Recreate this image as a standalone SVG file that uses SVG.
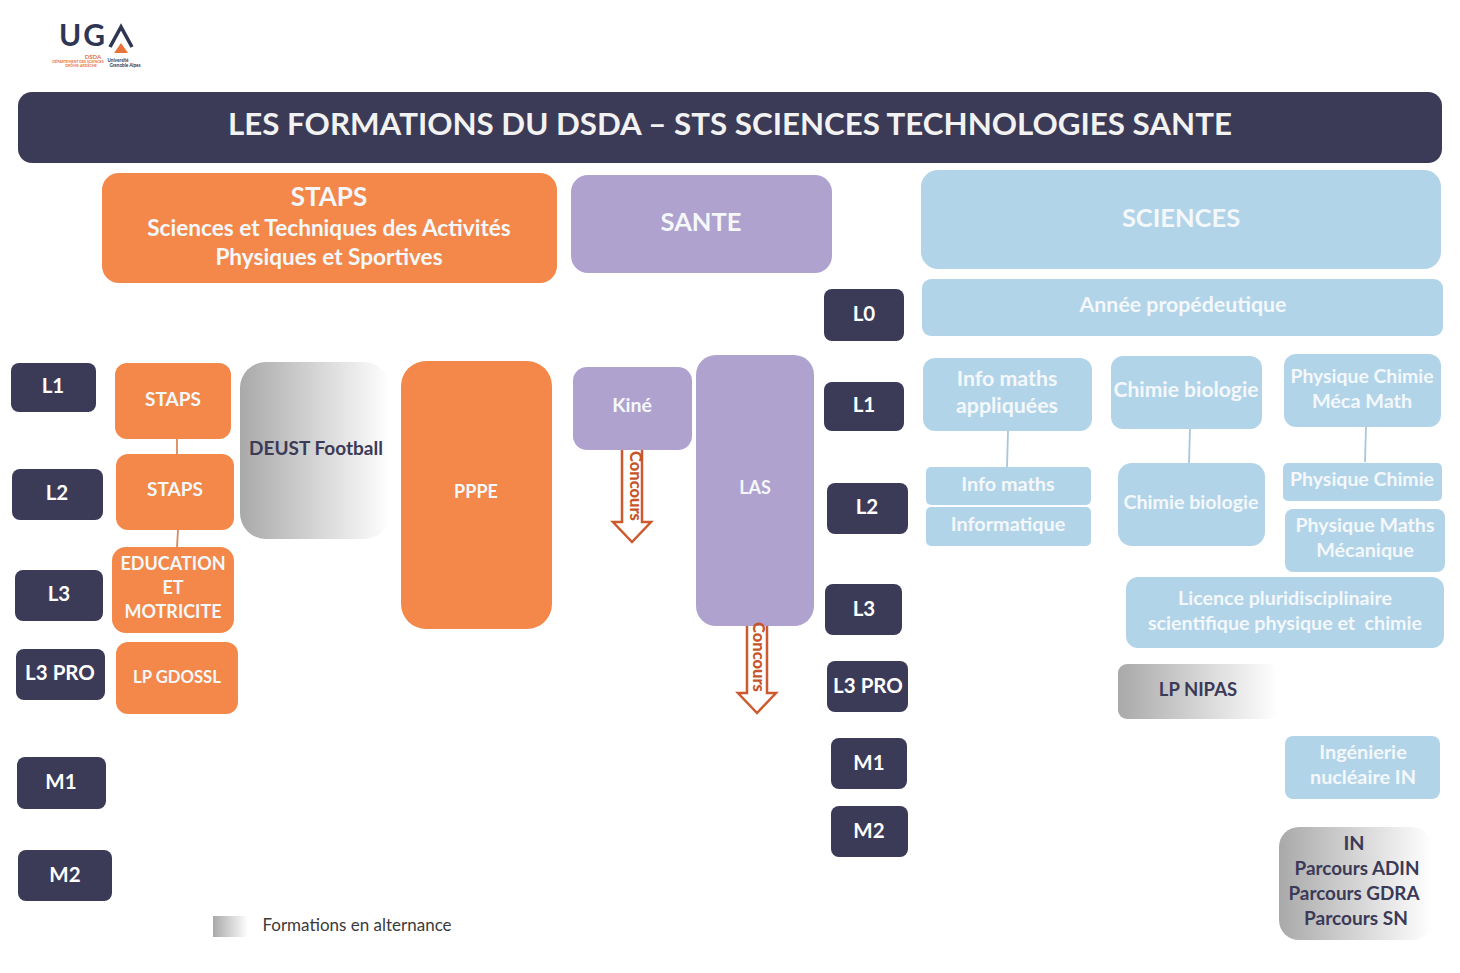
<svg xmlns="http://www.w3.org/2000/svg" width="1460" height="973" viewBox="0 0 1460 973">
<style>
text{font-family:Lato,"Open Sans","Liberation Sans",sans-serif;font-weight:700;text-anchor:middle}
.w{fill:#fff}.wb{fill:#f4f8fb}.d{fill:#3b3a57}
.navy{fill:#3b3a57}.or{fill:#f3884a}.pu{fill:#afa2cf}.bl{fill:#b2d4e9}
.s20{font-size:20.5px}.s19{font-size:21.3px}.s18{font-size:19.8px}
.conn{stroke-width:1.8;fill:none}
.arrow{fill:#fff;stroke:#cc5a2e;stroke-width:2.5;stroke-linejoin:miter}
.conc{fill:#c8552a;font-size:16.5px;font-weight:900}
</style>
<defs>
<linearGradient id="alt" x1="0" y1="0" x2="1" y2="0"><stop offset="0" stop-color="#a9a9a9"/><stop offset="1" stop-color="#ffffff"/></linearGradient>
</defs>
<rect width="1460" height="973" fill="#fff"/>
<g id="logo">
<text x="83" y="46" font-size="30" style="fill:#2f3654;letter-spacing:2px">UG</text>
<path d="M110 47 L121 27 L132 47" fill="none" stroke="#2f3654" stroke-width="3.6"/>
<path d="M114 53 L121 43 L128 53Z" fill="#e8743b"/>
<text x="93" y="59" font-size="6" style="fill:#e8743b">DSDA</text>
<text x="78" y="62.5" font-size="3.6" style="fill:#e8743b">DÉPARTEMENT DES SCIENCES</text>
<text x="81" y="67" font-size="3.6" style="fill:#e8743b">DRÔME-ARDÈCHE</text>
<text x="118" y="62" font-size="4.6" style="fill:#2f3654">Université</text>
<text x="125" y="67" font-size="4.6" style="fill:#2f3654">Grenoble Alpes</text>
</g>
<g id="title"><rect x="18" y="92" width="1424" height="71" rx="14" class="navy"/>
<text x="730" y="135" font-size="31.3" class="w" style="fill:#f2f2f2">LES FORMATIONS DU DSDA – STS SCIENCES TECHNOLOGIES SANTE</text></g>
<g id="connectors">
<path class="conn" stroke="#d98a5c" d="M177 439V454M178 530L177 547"/>
<path class="conn" stroke="#a9c6da" d="M1008 431L1007 467M1190 429L1189 463M1366 427L1365 462"/>
</g>
<g id="head-staps"><rect x="102" y="173" width="455" height="110" rx="17" class="or"/>
<text x="329" y="206" font-size="26" class="wb">STAPS</text>
<text x="329" y="236" font-size="22.6" class="wb">Sciences et Techniques des Activités</text>
<text x="329" y="265" font-size="22.6" class="wb">Physiques et Sportives</text></g>
<g id="head-sante"><rect x="571" y="175" width="261" height="98" rx="17" class="pu"/>
<text x="701" y="231" font-size="25.5" class="wb">SANTE</text></g>
<g id="head-sciences"><rect x="921" y="170" width="520" height="99" rx="17" class="bl"/>
<text x="1181" y="227" font-size="25.5" class="wb">SCIENCES</text></g>
<g id="annee"><rect x="922" y="279" width="521" height="57" rx="9" class="bl"/>
<text x="1183" y="312" class="wb s19">Année propédeutique</text></g>
<g id="left-l1"><rect x="11" y="363" width="85" height="49" rx="8" class="navy"/><text x="53" y="393" class="w s20">L1</text></g>
<g id="left-l2"><rect x="12" y="469" width="91" height="51" rx="8" class="navy"/><text x="57" y="500" class="w s20">L2</text></g>
<g id="left-l3"><rect x="15" y="570" width="88" height="51" rx="8" class="navy"/><text x="59" y="601" class="w s20">L3</text></g>
<g id="left-l3pro"><rect x="16" y="649" width="89" height="51" rx="8" class="navy"/><text x="60" y="680" class="w s20">L3 PRO</text></g>
<g id="left-m1"><rect x="17" y="757" width="89" height="52" rx="8" class="navy"/><text x="61" y="789" class="w s20">M1</text></g>
<g id="left-m2"><rect x="18" y="850" width="94" height="51" rx="8" class="navy"/><text x="65" y="882" class="w s20">M2</text></g>
<g id="mid-l0"><rect x="824" y="289" width="80" height="52" rx="8" class="navy"/><text x="864" y="321" class="w s20">L0</text></g>
<g id="mid-l1"><rect x="824" y="382" width="80" height="49" rx="8" class="navy"/><text x="864" y="412" class="w s20">L1</text></g>
<g id="mid-l2"><rect x="827" y="483" width="81" height="51" rx="8" class="navy"/><text x="867" y="514" class="w s20">L2</text></g>
<g id="mid-l3"><rect x="825" y="584" width="77" height="51" rx="8" class="navy"/><text x="864" y="616" class="w s20">L3</text></g>
<g id="mid-l3pro"><rect x="827" y="661" width="81" height="51" rx="8" class="navy"/><text x="868" y="693" class="w s20">L3 PRO</text></g>
<g id="mid-m1"><rect x="831" y="738" width="76" height="51" rx="8" class="navy"/><text x="869" y="770" class="w s20">M1</text></g>
<g id="mid-m2"><rect x="831" y="806" width="77" height="51" rx="8" class="navy"/><text x="869" y="838" class="w s20">M2</text></g>
<g id="staps1"><rect x="115" y="363" width="116" height="76" rx="12" class="or"/><text x="173" y="406" font-size="19" class="wb">STAPS</text></g>
<g id="staps2"><rect x="116" y="454" width="118" height="76" rx="12" class="or"/><text x="175" y="496" font-size="19" class="wb">STAPS</text></g>
<g id="edu"><rect x="112" y="547" width="122" height="86" rx="14" class="or"/>
<text x="173" y="570" font-size="18" class="wb">EDUCATION</text><text x="173" y="594" font-size="18" class="wb">ET</text><text x="173" y="618" font-size="18" class="wb">MOTRICITE</text></g>
<g id="lp-gdossl"><rect x="116" y="642" width="122" height="72" rx="12" class="or"/><text x="177" y="683" font-size="16.7" class="wb">LP GDOSSL</text></g>
<g id="deust"><rect x="240" y="362" width="150" height="177" rx="26" fill="url(#alt)"/><text x="316" y="455" font-size="19" class="d">DEUST Football</text></g>
<g id="ppe"><rect x="401" y="361" width="151" height="268" rx="25" class="or"/><text x="476" y="498" font-size="18" class="wb">PPPE</text></g>
<g id="kine"><rect x="573" y="367" width="119" height="83" rx="14" class="pu"/><text x="632" y="412" font-size="19.5" class="wb">Kiné</text></g>
<g id="las"><rect x="696" y="355" width="118" height="271" rx="20" class="pu"/><text x="755" y="494" font-size="18" class="wb">LAS</text></g>
<g id="concours-kine"><path class="arrow" d="M622 450V522H613L632 542L651 522H642V450"/>
<text transform="translate(630,486) rotate(90)" class="conc">Concours</text></g>
<g id="concours-las"><path class="arrow" d="M747 626V693H738L757 713L776 693H767V626"/>
<text transform="translate(753,657) rotate(90)" class="conc">Concours</text></g>
<g id="info-app"><rect x="923" y="358" width="169" height="73" rx="12" class="bl"/><text x="1007" y="386" class="wb s19">Info maths</text><text x="1007" y="413" class="wb s19">appliquées</text></g>
<g id="chimie1"><rect x="1111" y="356" width="151" height="73" rx="12" class="bl"/><text x="1186" y="397" class="wb s19" textLength="145" lengthAdjust="spacingAndGlyphs">Chimie biologie</text></g>
<g id="phys1"><rect x="1284" y="354" width="157" height="73" rx="12" class="bl"/><text x="1362" y="383" class="wb s18" textLength="143" lengthAdjust="spacingAndGlyphs">Physique Chimie</text><text x="1362" y="408" class="wb s18">Méca Math</text></g>
<g id="info"><rect x="926" y="467" width="165" height="38" rx="5" class="bl"/><text x="1008" y="491" class="wb s18">Info maths</text></g>
<g id="informatique"><rect x="926" y="507" width="165" height="39" rx="5" class="bl"/><text x="1008" y="531" class="wb s18">Informatique</text></g>
<g id="chimie2"><rect x="1118" y="463" width="147" height="83" rx="14" class="bl"/><text x="1191" y="509" class="wb s18" textLength="135" lengthAdjust="spacingAndGlyphs">Chimie biologie</text></g>
<g id="phys2"><rect x="1283" y="463" width="159" height="38" rx="5" class="bl"/><text x="1362" y="486" class="wb s18" textLength="144" lengthAdjust="spacingAndGlyphs">Physique Chimie</text></g>
<g id="phys3"><rect x="1285" y="509" width="160" height="63" rx="8" class="bl"/><text x="1365" y="532" class="wb s18" textLength="139" lengthAdjust="spacingAndGlyphs">Physique Maths</text><text x="1365" y="557" class="wb s18">Mécanique</text></g>
<g id="licence"><rect x="1126" y="577" width="318" height="71" rx="12" class="bl"/><text x="1285" y="605" class="wb s18" textLength="214" lengthAdjust="spacingAndGlyphs">Licence pluridisciplinaire</text><text x="1285" y="630" class="wb s18" textLength="274" lengthAdjust="spacingAndGlyphs" xml:space="preserve">scientifique physique et  chimie</text></g>
<g id="lp-nipas"><rect x="1118" y="664" width="160" height="55" rx="9" fill="url(#alt)"/><text x="1198" y="696" font-size="18.5" class="d">LP NIPAS</text></g>
<g id="ing"><rect x="1285" y="736" width="155" height="63" rx="8" class="bl"/><text x="1363" y="759" class="wb s18">Ingénierie</text><text x="1363" y="784" class="wb s18">nucléaire IN</text></g>
<g id="in"><rect x="1279" y="827" width="153" height="113" rx="20" fill="url(#alt)"/>
<text x="1354" y="850" class="d s18">IN</text><text x="1357" y="875" class="d s18" textLength="125" lengthAdjust="spacingAndGlyphs">Parcours ADIN</text><text x="1354" y="900" class="d s18" textLength="131" lengthAdjust="spacingAndGlyphs">Parcours GDRA</text><text x="1356" y="925" class="d s18" textLength="104" lengthAdjust="spacingAndGlyphs">Parcours SN</text></g>
<g id="legend"><rect x="213" y="916" width="35" height="21" fill="url(#alt)"/><text x="357" y="931" font-size="17" style="fill:#3a3a3a;font-weight:400">Formations en alternance</text></g>
</svg>
